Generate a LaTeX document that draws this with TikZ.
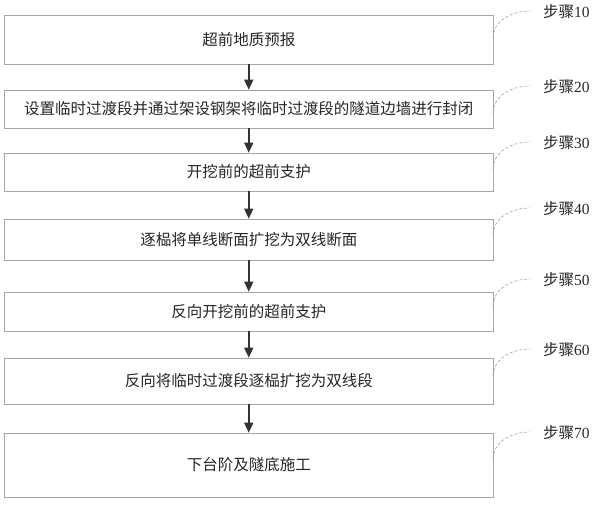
\documentclass[tikz,border=0pt]{standalone}
\usepackage{fontspec}
\setmainfont{Liberation Serif}
\newfontfamily\cjk{Noto Sans CJK SC}
\usetikzlibrary{arrows.meta}
\begin{document}
\begin{tikzpicture}[x=1pt,y=-1pt,
  stepbox/.style={draw=gray!70, line width=0.7pt, minimum width=488.5pt, inner sep=0pt,
    font=\cjk\fontsize{15.5}{16}\selectfont, text=black!85},
  flow/.style={draw=black!80, line width=1.6pt, -{Triangle[length=10pt,width=9pt]}},
  lead/.style={draw=gray!75, line width=0.6pt, densely dashed},
  steplabel/.style={anchor=west, inner sep=0pt, font=\fontsize{15.5}{16}\selectfont, text=black!85}]
\useasboundingbox (0,0) rectangle (600,504);
% boxes
\node[stepbox, minimum height=49pt] (b1) at (248.75,39.5) {超前地质预报};
\node[stepbox, minimum height=38pt] (b2) at (248.75,109) {设置临时过渡段并通过架设钢架将临时过渡段的隧道边墙进行封闭};
\node[stepbox, minimum height=38pt] (b3) at (248.75,172) {开挖前的超前支护};
\node[stepbox, minimum height=41pt] (b4) at (248.75,239.5) {逐榀将单线断面扩挖为双线断面};
\node[stepbox, minimum height=39pt] (b5) at (248.75,311.5) {反向开挖前的超前支护};
\node[stepbox, minimum height=46pt] (b6) at (248.75,381) {反向将临时过渡段逐榀扩挖为双线段};
\node[stepbox, minimum height=64pt] (b7) at (248.75,465) {下台阶及隧底施工};
% arrows
\draw[flow] (b1.south) -- (b2.north);
\draw[flow] (b2.south) -- (b3.north);
\draw[flow] (b3.south) -- (b4.north);
\draw[flow] (b4.south) -- (b5.north);
\draw[flow] (b5.south) -- (b6.north);
\draw[flow] (b6.south) -- (b7.north);
% step labels
\node[steplabel] (l1) at (543,12) {{\cjk 步骤}10};
\node[steplabel] (l2) at (543,87) {{\cjk 步骤}20};
\node[steplabel] (l3) at (543,143) {{\cjk 步骤}30};
\node[steplabel] (l4) at (543,209) {{\cjk 步骤}40};
\node[steplabel] (l5) at (543,280) {{\cjk 步骤}50};
\node[steplabel] (l6) at (543,350) {{\cjk 步骤}60};
\node[steplabel] (l7) at (543,433) {{\cjk 步骤}70};
% leader start points
\coordinate (s1) at (493,38);
\coordinate (s2) at (493,113);
\coordinate (s3) at (493,169);
\coordinate (s4) at (493,235);
\coordinate (s5) at (493,306);
\coordinate (s6) at (493,376);
\coordinate (s7) at (493,459);
\foreach \i in {1,...,7}{
  \draw[lead] (s\i) .. controls +(0,-16) and +(-20,0) .. ([xshift=-13pt,yshift=1pt]l\i.west);
}
\end{tikzpicture}
\end{document}
